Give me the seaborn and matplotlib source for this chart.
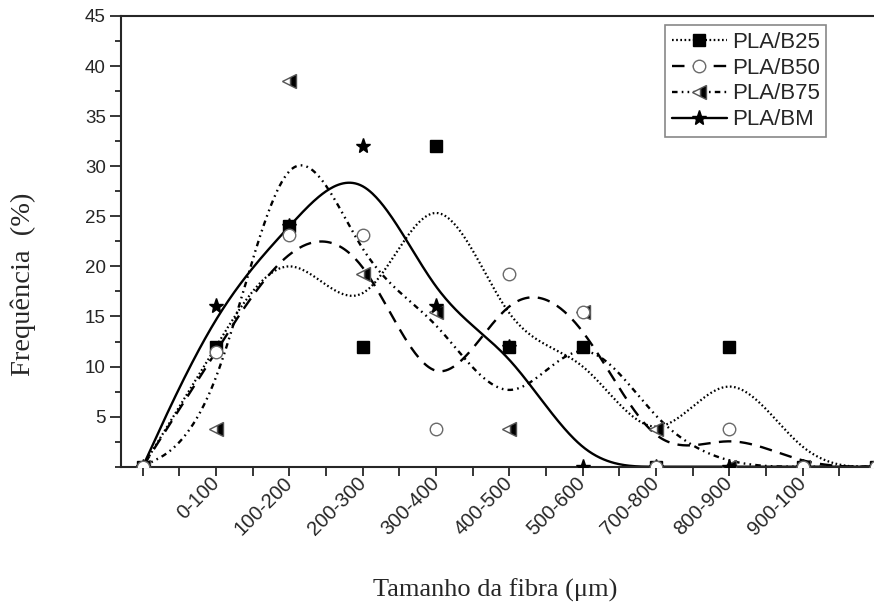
import numpy as np
import pandas as pd
import matplotlib
matplotlib.use("Agg")
import matplotlib.pyplot as plt
import matplotlib.transforms as mtransforms
from matplotlib.lines import Line2D
from matplotlib.ticker import MultipleLocator, FixedLocator
import seaborn as sns

# ---- data ----
sizes = [0, 100, 200, 300, 400, 500, 600, 700, 800, 900, 1000]
tick_pos = [100, 200, 300, 400, 500, 600, 700, 800, 900]
tick_labels = ["0-100", "100-200", "200-300", "300-400", "400-500",
               "500-600", "700-800", "800-900", "900-100"]
pla_b25 = [0, 12, 24, 12, 32, 12, 12, 0, 12, 0, 0]
pla_b50 = [0, 11.5, 23.1, 23.1, 3.8, 19.2, 15.4, 0, 3.8, 0, 0]
pla_b75 = [0, 3.8, 38.5, 19.2, 15.4, 3.8, 15.4, 3.8, 0, 0, 0]
pla_bm = [0, 16, 24, 32, 16, 12, 0, 0, 0, 0, 0]
series_names = ["PLA/B25", "PLA/B50", "PLA/B75", "PLA/BM"]


def bspline(xc, yc, per_seg=60):
    """Uniform cubic B-spline with the data as control points
    (end points tripled so the curve starts/ends on them)."""
    P = np.column_stack([np.asarray(xc, float), np.asarray(yc, float)])
    P = np.vstack([P[:1], P[:1], P, P[-1:], P[-1:]])
    t = np.linspace(0, 1, per_seg, endpoint=False)
    b0 = (1 - t) ** 3 / 6
    b1 = (3 * t ** 3 - 6 * t ** 2 + 4) / 6
    b2 = (-3 * t ** 3 + 3 * t ** 2 + 3 * t + 1) / 6
    b3 = t ** 3 / 6
    pts = []
    for i in range(len(P) - 3):
        seg = (np.outer(b0, P[i]) + np.outer(b1, P[i + 1]) +
               np.outer(b2, P[i + 2]) + np.outer(b3, P[i + 3]))
        pts.append(seg)
    pts.append(P[-1:])
    pts = np.vstack(pts)
    return pts[:, 0], pts[:, 1]


sns.set_style("ticks")
plt.rcParams["font.family"] = ["Liberation Sans", "DejaVu Sans"]
plt.rcParams["lines.scale_dashes"] = False

W, H = 874, 612
x0, x1, y0, y1 = 121, 876, 466.7, 16
fig = plt.figure(figsize=(W / 100, H / 100), dpi=100)
ax = fig.add_axes([x0 / W, (H - y0) / H, (x1 - x0) / W, (y0 - y1) / H])

styles = {
    "PLA/B25": dict(ls=(0, (1.2, 1.8)), lw=1.6, marker="s", ms=8.5, mfc="black",
                    mec="black", fs="full"),
    "PLA/B50": dict(ls=(0, (9, 6)), lw=1.7, marker="o", ms=9, mfc="white",
                    mec="#6a6a6a", fs="full"),
    "PLA/B75": dict(ls=(0, (4, 3, 1.2, 3, 1.2, 3)), lw=1.7, marker="<", ms=10,
                    mfc="black", mec="#555555", fs="right"),
    "PLA/BM": dict(ls="-", lw=1.7, marker="*", ms=11, mfc="black",
                   mec="black", fs="full"),
}
values = {"PLA/B25": pla_b25, "PLA/B50": pla_b50, "PLA/B75": pla_b75, "PLA/BM": pla_bm}

# smooth curves
for name in series_names:
    st = styles[name]
    cx, cy = bspline(sizes, values[name])
    sns.lineplot(x=cx, y=cy, ax=ax, sort=False, estimator=None, color="black",
                 linestyle=st["ls"], linewidth=st["lw"], zorder=2)

# markers
for name in ["PLA/B75", "PLA/BM", "PLA/B25", "PLA/B50"]:
    st = styles[name]
    sns.lineplot(x=sizes, y=values[name], ax=ax, sort=False, estimator=None,
                 linestyle="", marker=st["marker"], markersize=st["ms"],
                 markerfacecolor=st["mfc"], markeredgecolor=st["mec"],
                 markerfacecoloralt="white", fillstyle=st["fs"],
                 markeredgewidth=1.0, color="black", zorder=3)

ax.set_xlim(-29.6, 1000)
ax.set_ylim(0, 45)
ax.xaxis.set_major_locator(FixedLocator([0] + tick_pos))
ax.set_xticklabels([""] + tick_labels, rotation=45, ha="right", va="center",
                   rotation_mode="anchor", fontsize=14.5)
offset = mtransforms.ScaledTranslation(10 / 100, 0, fig.dpi_scale_trans)
for lab in ax.get_xticklabels():
    lab.set_transform(lab.get_transform() + offset)
ax.xaxis.set_minor_locator(MultipleLocator(50))
ax.yaxis.set_major_locator(FixedLocator([5, 10, 15, 20, 25, 30, 35, 40, 45]))
ax.yaxis.set_minor_locator(MultipleLocator(2.5))
ax.tick_params(axis="y", which="major", direction="out", length=8, width=1.3, labelsize=13.5, pad=3)
ax.tick_params(axis="y", which="minor", direction="out", length=4.5, width=1.3)
ax.tick_params(axis="x", which="major", direction="out", length=6.5, width=1.3, pad=3)
ax.tick_params(axis="x", which="minor", direction="out", length=6.5, width=1.3)
for sp in ax.spines.values():
    sp.set_visible(True)
    sp.set_linewidth(1.5)

ax.set_xlabel("Tamanho da fibra (μm)", family=["Liberation Serif", "DejaVu Serif"], fontsize=19)
ax.set_ylabel("Frequência  (%)", family=["Liberation Serif", "DejaVu Serif"], fontsize=20.5)
ax.xaxis.set_label_coords((495 - x0) / (x1 - x0), -(590 - y0) / (y0 - y1))
ax.xaxis.label.set_va("center")
ax.yaxis.set_label_coords(-(x0 - 23) / (x1 - x0), (y0 - 284) / (y0 - y1))
ax.yaxis.label.set_va("center")

handles = []
for name in series_names:
    st = styles[name]
    handles.append(Line2D([0], [0], color="black", linestyle=st["ls"], linewidth=st["lw"],
                          marker=st["marker"], markersize=st["ms"], markerfacecolor=st["mfc"],
                          markeredgecolor=st["mec"], markerfacecoloralt="white",
                          fillstyle=st["fs"], markeredgewidth=1.0))
leg = ax.legend(handles=handles, labels=series_names, loc="upper left",
                bbox_to_anchor=((665 - x0) / (x1 - x0), (y0 - 25) / (y0 - y1)),
                fontsize=16, frameon=True, fancybox=False, framealpha=1,
                edgecolor="#888888", borderpad=0.3, labelspacing=0.22,
                handlelength=2.5, handletextpad=0.2, borderaxespad=0)
leg.get_frame().set_linewidth(1.2)

fig.savefig("out.png", dpi=100)
